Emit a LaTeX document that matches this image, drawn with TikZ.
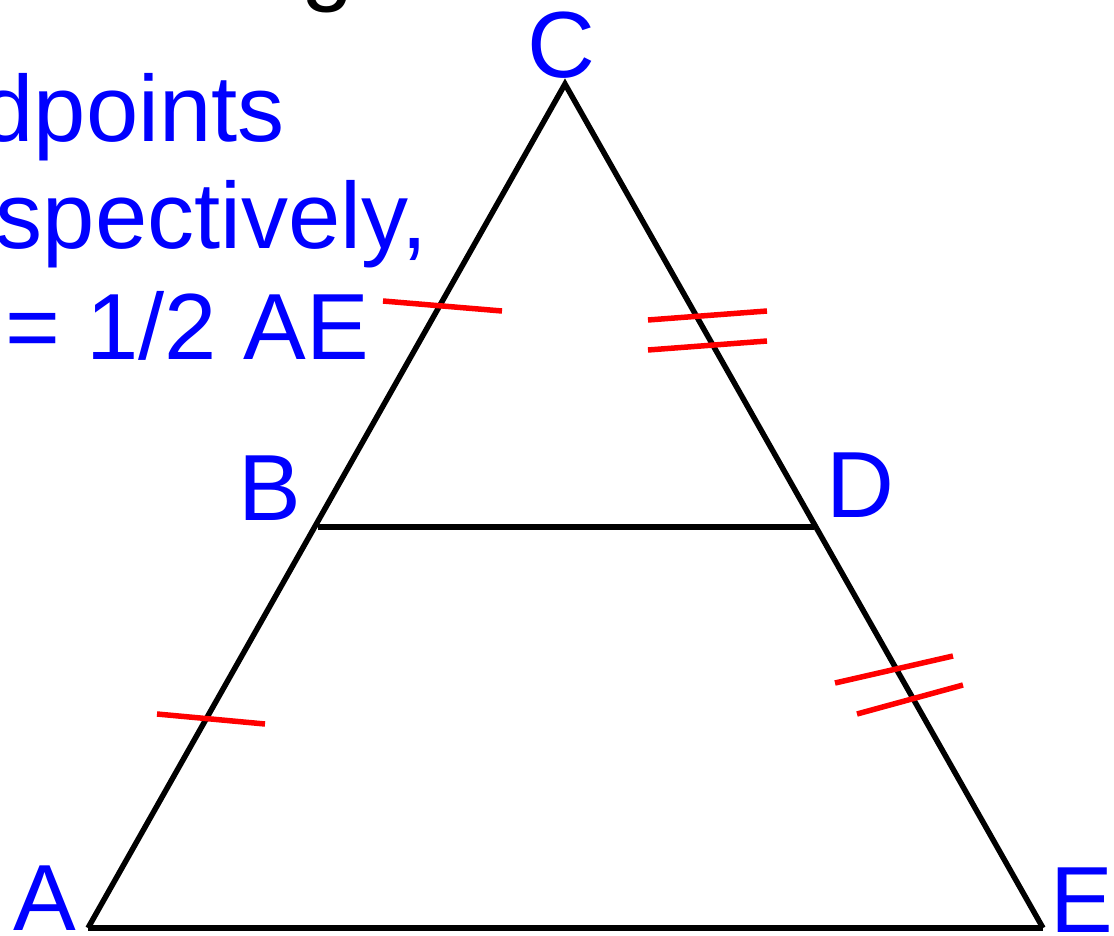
\documentclass[tikz,border=0pt]{standalone}
\usepackage{fontspec}
\setmainfont{Liberation Sans}
\usepackage{xcolor}
\usetikzlibrary{positioning}

\begin{document}
\begin{tikzpicture}[x=1pt, y=-1pt,
  lbl/.style={inner sep=0pt, anchor=base, text=blue,
              font=\fontsize{94}{110}\selectfont},
  txt/.style={inner sep=0pt, anchor=base east, text=blue,
              font=\fontsize{94}{110}\selectfont},
  side/.style={line width=5.5pt, black},
  tick/.style={line width=5.5pt, red}
]
\useasboundingbox (0,0) rectangle (1114,936);
\clip (0,0) rectangle (1114,936);

% vertices
\coordinate (A) at (88,928);
\coordinate (C) at (565,84);
\coordinate (E) at (1043,928);
\coordinate (B) at (318,527);
\coordinate (D) at (814,527);

% cut-off heading and text
\node[inner sep=0pt, anchor=base, font=\fontsize{94}{110}\selectfont] (head) at (328,-6) {g};
\node[txt] (t1) at (285,142) {dpoints};
\node[txt] (t2) at (428,248) {spectively,};
\node[txt] (t3) at (369,359) {= 1/2 AE};

% triangle and midsegment
\draw[side] (A) -- (C) -- (E);
\draw[line width=6.5pt] (A) -- (E);
\draw[side] (B) -- (D);

% equal marks
\draw[tick] (383,301) -- (502,311);
\draw[tick] (157,714) -- (265,724);
\draw[tick] (648,320) -- (767,311);
\draw[tick] (648,350) -- (767,341);
\draw[tick] (835,683) -- (953,656);
\draw[tick] (857,714) -- (963,685);

% labels
\node[lbl] (lA) at (45,930) {A};
\node[lbl] (lB) at (270,520) {B};
\node[lbl] (lC) at (561,78)  {C};
\node[lbl] (lD) at (860,517) {D};
\node[lbl] (lE) at (1082,932) {E};
\end{tikzpicture}
\end{document}
